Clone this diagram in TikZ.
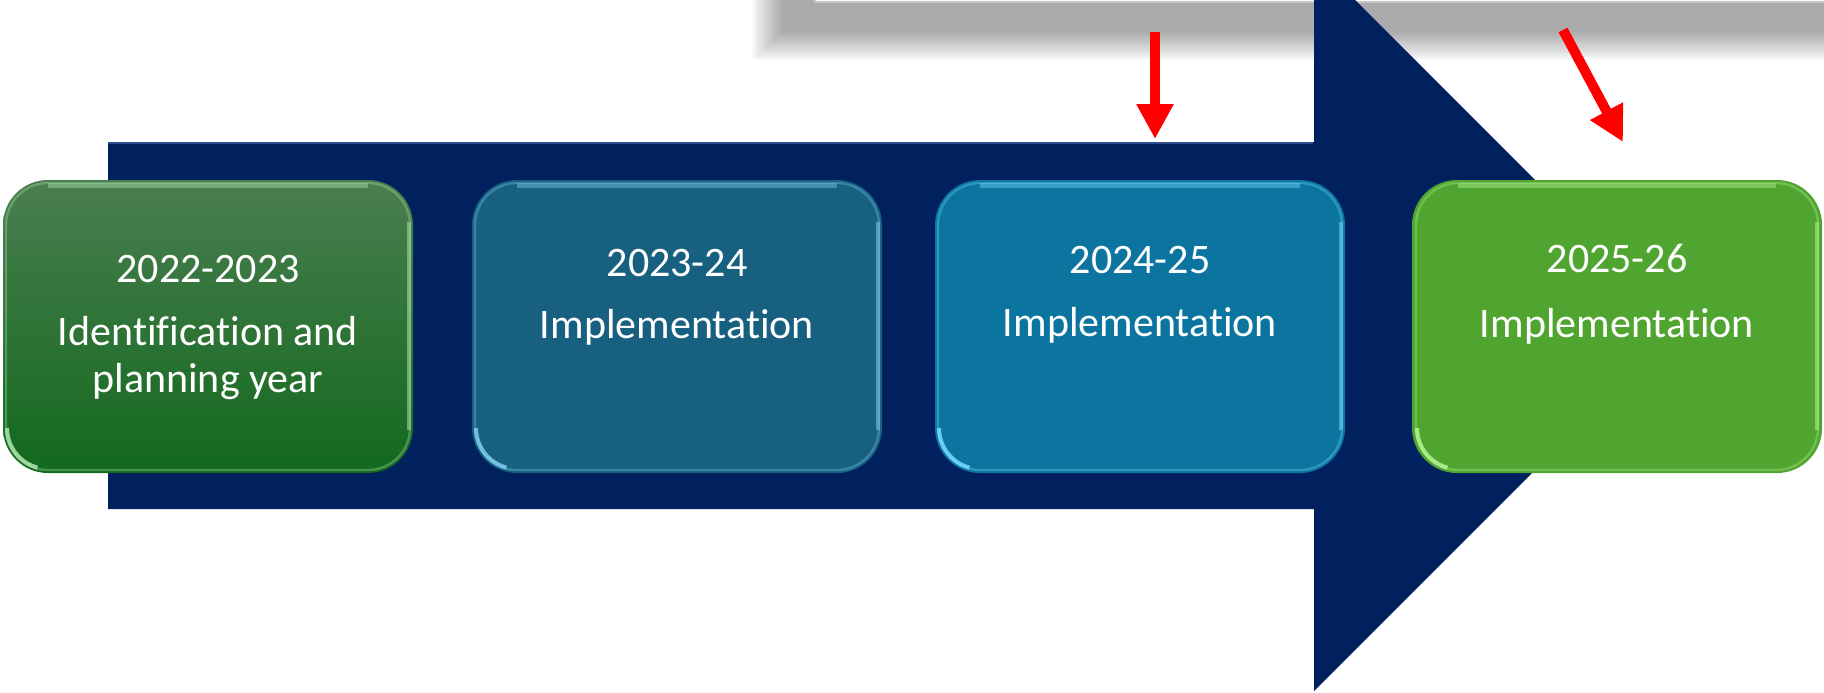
\documentclass[tikz,border=0pt]{standalone}
\usepackage{fontspec}
\setmainfont{Carlito}[Ligatures=NoCommon]
\usetikzlibrary{arrows.meta}
\definecolor{navy}{HTML}{00205E}
\definecolor{navyedge}{HTML}{2C4E90}
\definecolor{gAtop}{HTML}{4A7E50}
\definecolor{gAbot}{HTML}{12691D}
\definecolor{bB}{HTML}{17607F}
\definecolor{bC}{HTML}{0B759F}
\definecolor{gD}{HTML}{4FA52F}
\definecolor{hlA}{HTML}{A8E0A8}
\definecolor{hlB}{HTML}{7CC8E8}
\definecolor{hlC}{HTML}{70D6FA}
\definecolor{hlD}{HTML}{B0F090}
\definecolor{redarr}{HTML}{FF0000}
\tikzset{
  yearbox/.style={rounded corners=22.5pt, minimum width=205pt, minimum height=146.5pt, inner sep=0pt},
  gloss/.style={line width=1.2pt, opacity=0.35, rounded corners=21pt},
  glossarc/.style={line width=2pt, opacity=0.9},
  lbl/.style={text=white, font=\fontsize{21}{23.5}\selectfont, inner sep=0pt, anchor=base},
  redarrow/.style={draw=redarr, line width=5pt, -{Triangle[length=17.5pt,width=17.5pt]}},
}
\newcommand\myglossbox[5]{% name, x1, x2, hl colour, fill options
  \node[yearbox, #5] (#1) at ({(#2+#3)/2},326.5) {};
  \draw[gloss, draw=#4] (#2+3,183) rectangle (#3-3,470);
  \draw[glossarc, draw=#4] (#2+4,428) arc[start angle=180, end angle=105, radius=41];
  \draw[glossarc, draw=#4, opacity=0.55] (#3-4,222) -- (#3-4,430);
  \draw[glossarc, draw=#4, opacity=0.45, line width=2.5pt] (#2+45,185) -- (#3-45,185);
}
\begin{document}
\begin{tikzpicture}[x=0.5pt, y=-0.5pt]
\useasboundingbox (0,0) rectangle (1824,692);
% drop shadow of a panel above the picture
\foreach \i in {0,...,19} {
  \fill[black, opacity=0.02] (752+\i*1.6,-20) rectangle (1840,60-\i*1.5);
}
\fill[white, draw=gray!45, line width=0.6pt] (815,-30) rectangle (1840,2);
% big arrow
\fill[navy] (108,142) -- (1314,142) -- (1314,-41) -- (1680,325) -- (1314,691) -- (1314,509) -- (108,509) -- cycle;
\draw[navyedge, line width=1pt] (108,143) -- (1313,143);
% red arrows
\coordinate (r1a) at (1155,32);
\coordinate (r1b) at (1155,139);
\coordinate (r2a) at (1563,30);
\coordinate (r2b) at (1623,142);
\draw[redarrow] (r1a) -- (r1b);
\draw[redarrow] (r2a) -- (r2b);
% boxes
\myglossbox{b1}{3}{413}{hlA}{top color=gAtop, bottom color=gAbot}
\myglossbox{b2}{472}{882}{hlB}{fill=bB}
\myglossbox{b3}{935}{1345}{hlC}{fill=bC}
\myglossbox{b4}{1413}{1821}{hlD}{fill=gD}
% texts
\node[lbl] (y1) at (208,282) {2022-2023};
\node[lbl] (l1) at (208,345) {Identification and};
\node[lbl] (m1) at (208,392) {planning year};
\node[lbl] (y2) at (677,276) {2023-24};
\node[lbl] (l2) at (677,338) {Implementation};
\node[lbl] (y3) at (1140,273) {2024-25};
\node[lbl] (l3) at (1140,336) {Implementation};
\node[lbl] (y4) at (1617,272) {2025-26};
\node[lbl] (l4) at (1617,337) {Implementation};
\end{tikzpicture}
\end{document}
